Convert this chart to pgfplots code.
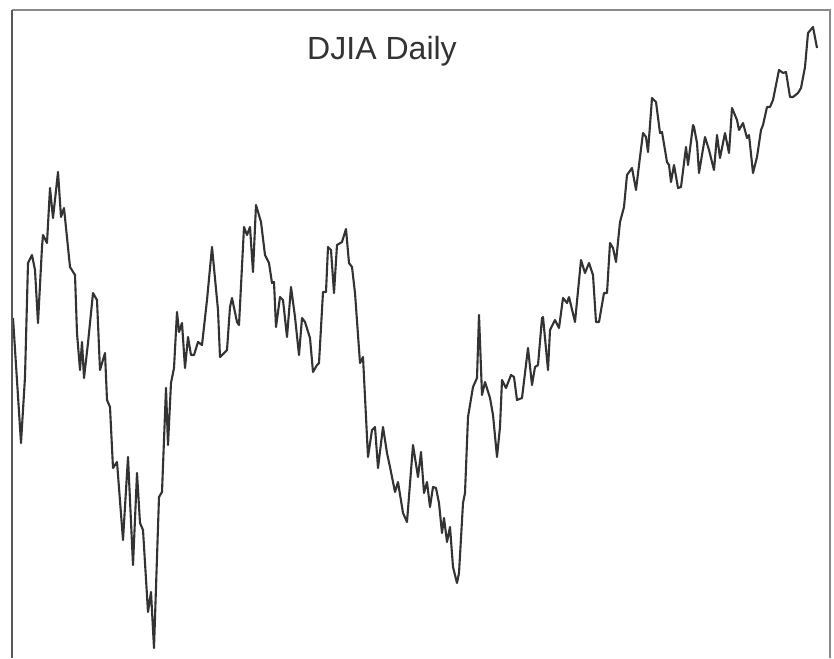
\documentclass[border=0pt]{standalone}
\usepackage{fontspec}
\setmainfont{Liberation Sans}
\usepackage{pgfplots}
\pgfplotsset{compat=1.18}
\definecolor{linegray}{HTML}{333333}
\definecolor{framegray}{HTML}{8A8A8A}

\begin{document}
\begin{tikzpicture}
\begin{axis}[
  x=0.25mm, y=0.25mm,
  xmin=0, xmax=834, ymin=0, ymax=658,
  y dir=reverse,
  hide axis, clip=false,
]
% pixel positions (y grows downward)
\addplot[color=linegray, line width=1.5pt, line join=round, mark=none] coordinates {
  (13,318) (21,443) (25,377) (28,263) (32,255) (35,270) (38,323) (42,247) (43,235)
  (47,243) (50,188) (53,218) (58,172) (61,217) (64,208) (70,267) (75,275) (77,333)
  (80,370) (82,342) (84,378) (88,343) (93,293) (97,300) (100,370) (105,353) (107,400)
  (110,407) (113,468) (117,462) (123,540) (128,457) (133,565) (137,473) (140,523)
  (143,530) (148,612) (151,592) (154,648) (159,497) (162,492) (166,388) (168,445)
  (171,383) (174,368) (177,312) (179,332) (182,323) (185,368) (188,337) (191,355)
  (194,355) (198,342) (202,345) (207,300) (212,247) (218,310) (220,357) (227,350)
  (230,307) (232,298) (237,322) (239,325) (244,227) (247,235) (250,227) (253,272)
  (256,205) (261,222) (265,255) (269,263) (272,283) (274,282) (276,327) (280,297)
  (283,300) (287,337) (291,287) (295,317) (299,355) (302,318) (305,322) (310,338)
  (313,372) (317,365) (319,363) (323,292) (326,292) (328,247) (331,250) (334,293)
  (337,245) (342,242) (346,229) (349,263) (352,267) (355,293) (360,363) (363,357)
  (368,457) (372,430) (375,427) (378,468) (383,427) (387,453) (390,467) (395,492)
  (398,482) (403,513) (407,522) (413,445) (418,477) (421,452) (424,493) (427,482)
  (430,507) (433,487) (436,488) (439,503) (442,533) (444,518) (447,542) (450,527)
  (453,567) (457,583) (459,573) (463,503) (465,493) (468,417) (473,387) (477,378)
  (479,315) (482,395) (485,382) (490,398) (493,415) (497,457) (500,427) (502,380)
  (506,388) (511,375) (514,377) (517,400) (522,398) (528,348) (532,385) (535,367)
  (538,365) (542,318) (543,317) (548,370) (550,330) (555,320) (559,328) (563,298)
  (567,303) (569,297) (575,322) (581,260) (585,273) (589,263) (593,275) (596,322)
  (599,322) (604,293) (607,293) (610,243) (613,248) (616,262) (620,222) (624,207)
  (627,175) (632,168) (636,190) (640,157) (643,133) (646,137) (648,152) (652,98)
  (656,102) (660,133) (662,132) (667,162) (669,165) (671,182) (674,165) (678,188)
  (681,187) (686,147) (688,165) (693,125) (694,127) (697,143) (699,173) (705,137)
  (709,150) (714,170) (717,135) (720,158) (725,133) (729,153) (732,108) (737,120)
  (739,130) (743,123) (747,138) (749,135) (753,173) (757,157) (761,130) (763,125)
  (767,107) (770,107) (773,100) (779,70) (783,73) (786,72) (790,97) (793,97)
  (798,93) (801,88) (805,67) (808,33) (813,27) (817,48)
};
% frame: left, top and right sides only
\draw[framegray, line width=1.1pt] (axis cs:830,658) -- (axis cs:830,10) -- (axis cs:12,10);
\draw[black!65, line width=1.4pt] (axis cs:12,10) -- (axis cs:12,658);
\node[anchor=base, text=linegray, font=\fontsize{22.8}{27}\selectfont]
  at (axis cs:382,59) {DJIA Daily};
\coordinate (ll) at (axis cs:0,658);
\coordinate (ur) at (axis cs:834,0);
\end{axis}
\pgfresetboundingbox
\path[use as bounding box] (ll) rectangle (ur);
\end{tikzpicture}
\end{document}
